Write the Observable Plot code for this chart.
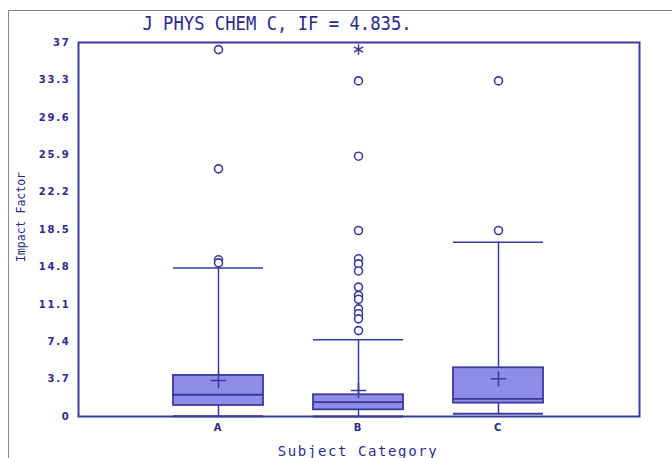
<!DOCTYPE html>
<html>
<head>
<meta charset="utf-8">
<script src="https://cdn.jsdelivr.net/npm/d3@7"></script>
<script src="https://cdn.jsdelivr.net/npm/@observablehq/plot@0.6"></script>
<style>
  html, body { margin: 0; padding: 0; background: #fff; overflow: hidden; }
  #wrap { position: relative; width: 672px; height: 458px; }
  #outer { position: absolute; left: 8px; top: 10px; width: 700px; height: 500px; border: 1.5px solid #8a8a8a; box-sizing: border-box; }
  #title { position: absolute; left: 277px; top: 11px; transform: translateX(-50%) scaleX(0.86); white-space: nowrap;
           font-family: "DejaVu Sans Mono", monospace; font-size: 20px; color: #2b2b8c; line-height: 24px; }
  #ylab { position: absolute; left: 21px; top: 217px; transform: translate(-50%, -50%) rotate(-90deg); white-space: nowrap;
          font-family: "DejaVu Sans Mono", monospace; font-size: 11.5px; color: #2b2b8c; }
  #xlab { position: absolute; left: 358px; top: 451px; transform: translate(-50%, -50%); white-space: nowrap;
          font-family: "DejaVu Sans Mono", monospace; font-size: 14px; letter-spacing: 1.6px; color: #2b2b8c; }
  #chart { position: absolute; left: 0; top: 0; }
</style>
</head>
<body>
<div id="wrap">
  <div id="outer"></div>
  <div id="chart"></div>
  <div id="title">J PHYS CHEM C, IF = 4.835.</div>
  <div id="ylab">Impact Factor</div>
  <div id="xlab">Subject Category</div>
</div>
<script>
// Box statistics per subject category
const categories = ["A", "B", "C"];
const q1Values = [1.09, 0.66, 1.32];
const medianValues = [2.15, 1.42, 1.75];
const q3Values = [4.06, 2.15, 4.82];
const meanValues = [3.56, 2.57, 3.73];
const whiskerLow = [0.03, 0.0, 0.27];
const whiskerHigh = [14.7, 7.59, 17.24];

// Outliers (circles)
const outlierCategory = ["A", "A", "A", "A",
  "B", "B", "B", "B", "B", "B", "B", "B", "B", "B", "B", "B", "B",
  "C", "C"];
const outlierValue = [36.3, 24.5, 15.5, 15.2,
  33.2, 25.75, 18.4, 15.6, 15.1, 14.4, 12.8, 11.97, 11.6, 10.65, 10.16, 9.66, 8.5,
  33.2, 18.4];

// Extreme outliers (asterisk)
const extremeCategory = ["B"];
const extremeValue = [36.3];

// Y axis tick labels
const yTicks = [0, 3.7, 7.4, 11.1, 14.8, 18.5, 22.2, 25.9, 29.6, 33.3, 37];
const yTickLabels = ["0", "3.7", "7.4", "11.1", "14.8", "18.5", "22.2", "25.9", "29.6", "33.3", "37"];

const boxes = categories.map((c, i) => ({
  cat: c, q1: q1Values[i], med: medianValues[i], q3: q3Values[i],
  mean: meanValues[i], lo: whiskerLow[i], hi: whiskerHigh[i]
}));
const outliers = outlierValue.map((v, i) => ({cat: outlierCategory[i], v}));
const extremes = extremeValue.map((v, i) => ({cat: extremeCategory[i], v}));

const line = "#3a3a9e";
const fill = "#8e8ee8";
const textColor = "#2b2b8c";

const chart = Plot.plot({
  width: 672,
  height: 458,
  marginLeft: 78,
  marginRight: 33,
  marginTop: 42,
  marginBottom: 42,
  style: {background: "transparent", color: textColor},
  x: {
    type: "band", domain: categories, paddingInner: 0.357, paddingOuter: 0.682,
    label: null, tickSize: 0, tickPadding: 7
  },
  y: {
    domain: [0, 37], ticks: yTicks, label: null, tickSize: 0, tickPadding: 8,
    tickFormat: (d) => yTickLabels[yTicks.indexOf(d)]
  },
  marks: [
    Plot.ruleX(boxes, {x: "cat", y1: "lo", y2: "q1", stroke: line, strokeWidth: 1.5}),
    Plot.ruleX(boxes, {x: "cat", y1: "q3", y2: "hi", stroke: line, strokeWidth: 1.5}),
    Plot.tickY(boxes, {x: "cat", y: "lo", stroke: line, strokeWidth: 2}),
    Plot.tickY(boxes, {x: "cat", y: "hi", stroke: line, strokeWidth: 1.5}),
    Plot.barY(boxes, {x: "cat", y1: "q1", y2: "q3", fill: fill, stroke: line, strokeWidth: 1.8}),
    Plot.tickY(boxes, {x: "cat", y: "med", stroke: line, strokeWidth: 1.8}),
    Plot.dot(boxes, {x: "cat", y: "mean", symbol: "plus", r: 5, stroke: line, strokeWidth: 1.6}),
    Plot.dot(outliers, {x: "cat", y: "v", symbol: "circle", r: 4, stroke: line, strokeWidth: 1.6, fill: "white"}),
    Plot.dot(extremes, {x: "cat", y: "v", symbol: "asterisk", r: 5, stroke: line, strokeWidth: 1.5}),
    Plot.frame({stroke: line, strokeWidth: 2})
  ]
});

chart.querySelectorAll("g[aria-label='y-axis tick label'] text, g[aria-label='x-axis tick label'] text").forEach(t => {
  t.style.fontFamily = "DejaVu Sans, sans-serif";
  t.style.fontWeight = "bold";
  t.style.fontSize = "10px";
  t.style.letterSpacing = "1.8px";
  t.style.fill = textColor;
});
document.getElementById("chart").appendChild(chart);
</script>
</body>
</html>
